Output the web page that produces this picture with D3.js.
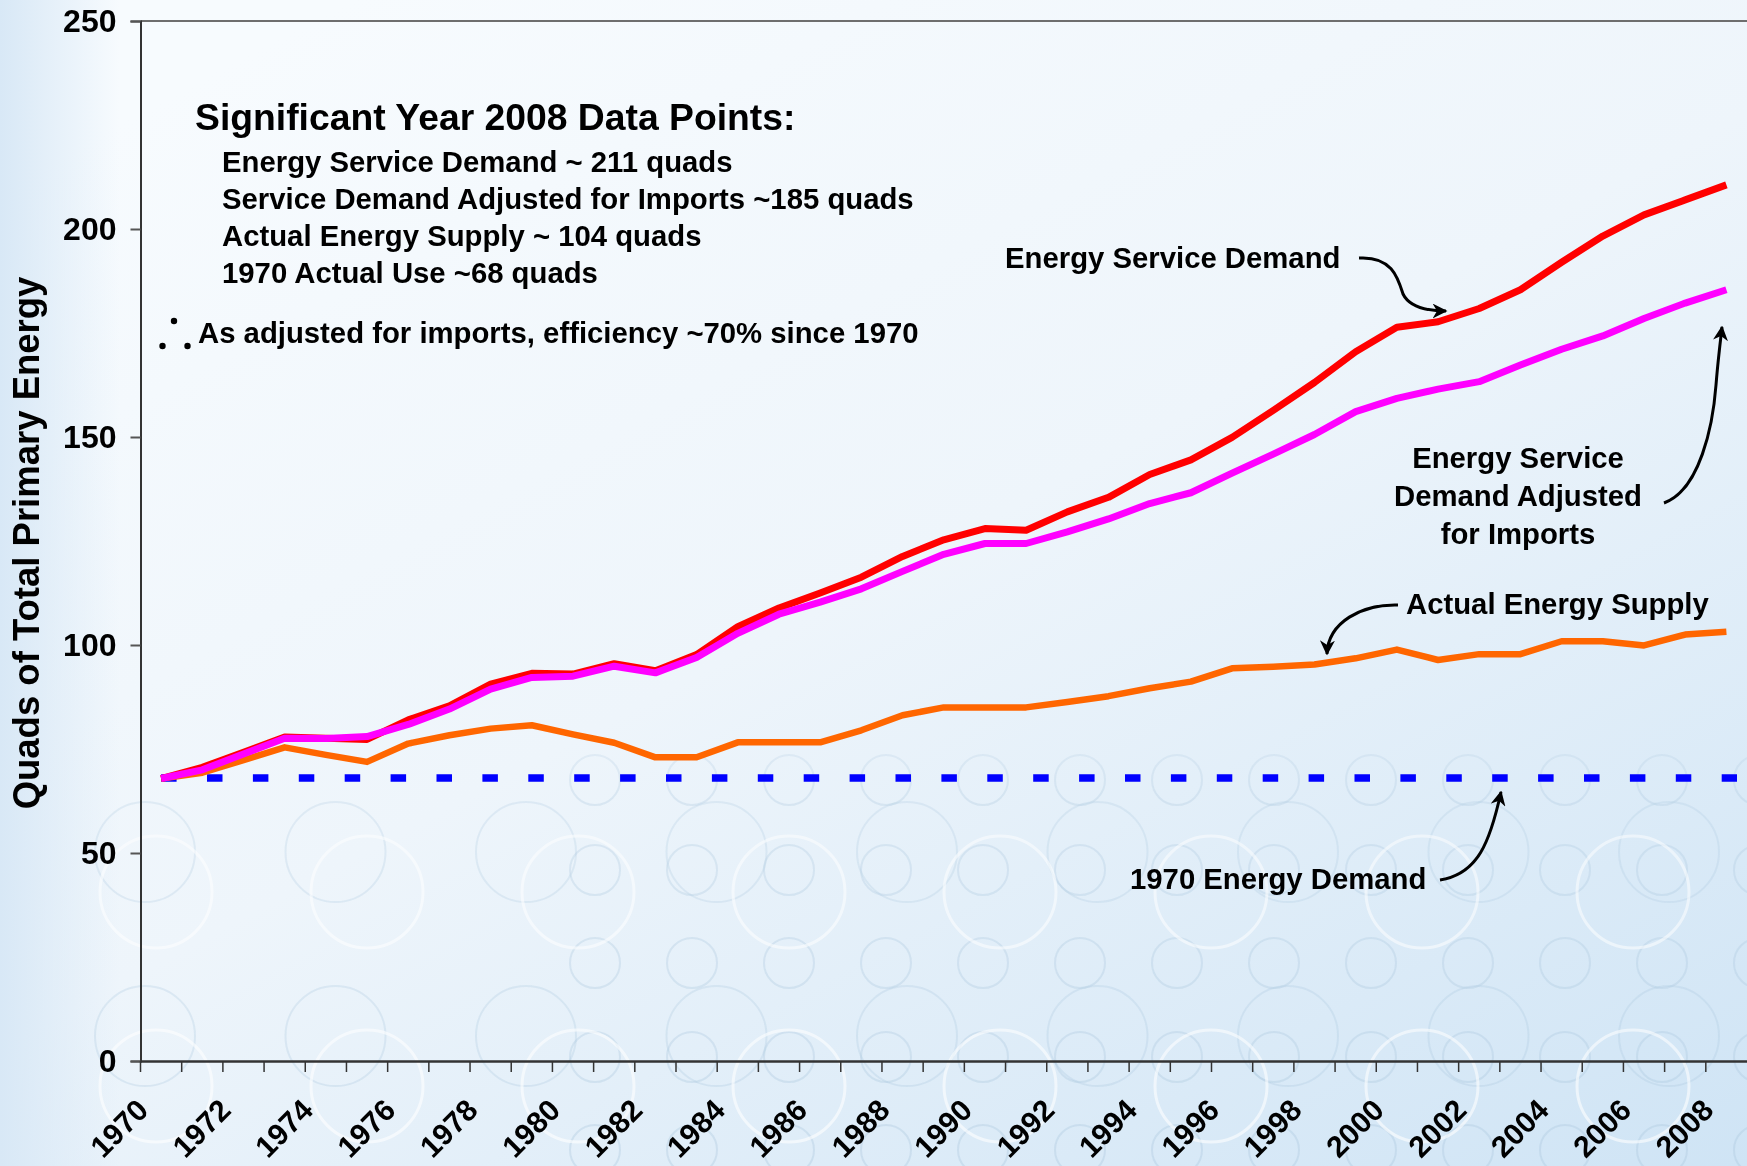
<!DOCTYPE html>
<html>
<head>
<meta charset="utf-8">
<script src="https://cdn.jsdelivr.net/npm/d3@7"></script>
<style>
  html, body { margin: 0; padding: 0; background: #f4f9fd; }
  svg text { font-family: "Liberation Sans", Arial, sans-serif; font-weight: bold; fill: #000; }
</style>
</head>
<body>
<svg id="chart" width="1747" height="1166"></svg>
<script>
// data (quads)
var years = [1970, 1971, 1972, 1973, 1974, 1975, 1976, 1977, 1978, 1979,
             1980, 1981, 1982, 1983, 1984, 1985, 1986, 1987, 1988, 1989,
             1990, 1991, 1992, 1993, 1994, 1995, 1996, 1997, 1998, 1999,
             2000, 2001, 2002, 2003, 2004, 2005, 2006, 2007, 2008];
var serviceDemand = [67.9, 70.6, 74.2, 77.9, 77.6, 77.3, 82.0, 85.4, 90.6, 93.2,
                     93.0, 95.5, 93.8, 97.7, 104.4, 108.9, 112.5, 116.3, 121.3, 125.3,
                     128.0, 127.6, 132.0, 135.5, 141.0, 144.5, 149.9, 156.4, 163.1, 170.5,
                     176.4, 177.7, 180.9, 185.4, 192.0, 198.3, 203.4, 207.0, 210.6];
var adjustedDemand = [67.9, 70.0, 73.8, 77.6, 77.5, 78.0, 80.9, 84.6, 89.4, 92.2,
                      92.5, 94.9, 93.3, 97.0, 102.8, 107.4, 110.3, 113.5, 117.7, 121.8,
                      124.4, 124.4, 127.2, 130.3, 134.0, 136.6, 141.3, 145.9, 150.6, 156.1,
                      159.3, 161.5, 163.3, 167.3, 171.1, 174.3, 178.5, 182.2, 185.4];
var actualSupply = [67.9, 69.3, 72.3, 75.4, 73.6, 71.9, 76.3, 78.3, 79.9, 80.7,
                    78.5, 76.5, 73.0, 73.0, 76.6, 76.6, 76.6, 79.5, 83.1, 85.0,
                    85.0, 85.0, 86.3, 87.7, 89.6, 91.2, 94.4, 94.8, 95.3, 96.8,
                    98.9, 96.4, 97.8, 97.8, 100.9, 100.9, 99.9, 102.5, 103.2];
var demand1970 = 68;
var yTicks = [0, 50, 100, 150, 200, 250];
var labelYears = [1970, 1972, 1974, 1976, 1978, 1980, 1982, 1984, 1986, 1988, 1990,
                  1992, 1994, 1996, 1998, 2000, 2002, 2004, 2006, 2008];

var summaryLines = [
    "Energy Service Demand ~ 211 quads",
    "Service Demand Adjusted for Imports ~185 quads",
    "Actual Energy Supply ~ 104 quads",
    "1970 Actual Use ~68 quads"
];

var W = 1747, H = 1166;
var plotLeft = 140.5, plotRight = 1747, plotTop = 21, plotBottom = 1061;

var svg = d3.select( "#chart" );
var defs = svg.append( "defs" );

// background
var bg = defs.append( "linearGradient" ).attr( "id", "bg" )
    .attr( "x1", "20%" ).attr( "y1", "0%" ).attr( "x2", "100%" ).attr( "y2", "100%" );
bg.append( "stop" ).attr( "offset", "0%" ).attr( "stop-color", "#f7fbfe" );
bg.append( "stop" ).attr( "offset", "45%" ).attr( "stop-color", "#eef5fb" );
bg.append( "stop" ).attr( "offset", "100%" ).attr( "stop-color", "#cfe4f5" );

var edge = defs.append( "linearGradient" ).attr( "id", "edge" )
    .attr( "x1", "0%" ).attr( "y1", "0%" ).attr( "x2", "100%" ).attr( "y2", "0%" );
edge.append( "stop" ).attr( "offset", "0%" ).attr( "stop-color", "#d8e8f6" ).attr( "stop-opacity", 1 );
edge.append( "stop" ).attr( "offset", "100%" ).attr( "stop-color", "#d8e8f6" ).attr( "stop-opacity", 0 );

var fade = defs.append( "linearGradient" ).attr( "id", "fade" )
    .attr( "x1", "0%" ).attr( "y1", "0%" ).attr( "x2", "0%" ).attr( "y2", "100%" );
fade.append( "stop" ).attr( "offset", "0%" ).attr( "stop-color", "#fff" ).attr( "stop-opacity", 0 );
fade.append( "stop" ).attr( "offset", "55%" ).attr( "stop-color", "#fff" ).attr( "stop-opacity", 0 );
fade.append( "stop" ).attr( "offset", "68%" ).attr( "stop-color", "#fff" ).attr( "stop-opacity", 0.8 );
fade.append( "stop" ).attr( "offset", "100%" ).attr( "stop-color", "#fff" ).attr( "stop-opacity", 1 );
defs.append( "mask" ).attr( "id", "circleMask" )
    .append( "rect" ).attr( "width", W ).attr( "height", H ).attr( "fill", "url(#fade)" );

svg.append( "rect" ).attr( "width", W ).attr( "height", H ).attr( "fill", "url(#bg)" );
svg.append( "rect" ).attr( "width", 120 ).attr( "height", H ).attr( "fill", "url(#edge)" );

// decorative circles
var deco = svg.append( "g" ).attr( "mask", "url(#circleMask)" ).attr( "fill", "none" );
[780, 870, 963, 1057, 1150].forEach( function( cy ) {
    for ( var cx = 595; cx < W + 30; cx += 97 ) {
        deco.append( "circle" ).attr( "cx", cx ).attr( "cy", cy ).attr( "r", 25 )
            .attr( "stroke", "#a9c6de" ).attr( "stroke-width", 2 ).attr( "opacity", 0.35 );
    }
} );
[852, 1036].forEach( function( cy ) {
    for ( var cx = 145; cx < W + 60; cx += 190.5 ) {
        deco.append( "circle" ).attr( "cx", cx ).attr( "cy", cy ).attr( "r", 50 )
            .attr( "stroke", "#a9c6de" ).attr( "stroke-width", 2 ).attr( "opacity", 0.3 );
    }
} );
[892, 1086].forEach( function( cy ) {
    for ( var cx = 156; cx < W + 60; cx += 211 ) {
        deco.append( "circle" ).attr( "cx", cx ).attr( "cy", cy ).attr( "r", 56 )
            .attr( "stroke", "#ffffff" ).attr( "stroke-width", 3 ).attr( "opacity", 0.6 );
    }
} );

// scales
var x = d3.scaleBand().domain( years ).range( [ plotLeft, plotRight ] ).padding( 0 );
var bw = x.bandwidth();
var cx = function( yr ) { return x( yr ) + bw / 2; };
var y = d3.scaleLinear().domain( [ 0, 250 ] ).range( [ plotBottom, plotTop ] );

// plot frame top
svg.append( "line" )
    .attr( "x1", plotLeft ).attr( "x2", plotRight ).attr( "y1", plotTop ).attr( "y2", plotTop )
    .attr( "stroke", "#6e6e6e" ).attr( "stroke-width", 2 );

// y axis
var yAxis = svg.append( "g" )
    .attr( "transform", "translate(" + plotLeft + ",0)" )
    .call( d3.axisLeft( y ).tickValues( yTicks ).tickSize( 10 ).tickPadding( 14 ) );
yAxis.select( ".domain" ).attr( "stroke", "#333" ).attr( "stroke-width", 2 );
yAxis.selectAll( ".tick line" ).attr( "stroke", "#555" ).attr( "stroke-width", 2 );
yAxis.selectAll( ".tick text" )
    .style( "font-size", "32px" ).style( "font-family", "'Liberation Sans', Arial, sans-serif" )
    .style( "font-weight", "bold" ).attr( "fill", "#000" );

// x axis, ticks between categories
var xAxis = svg.append( "g" )
    .attr( "transform", "translate(0," + plotBottom + ")" )
    .call( d3.axisBottom( x ).tickSize( 11 ).tickFormat( "" ).tickSizeOuter( 0 ) );
xAxis.select( ".domain" ).attr( "stroke", "#333" ).attr( "stroke-width", 2.5 );
xAxis.selectAll( ".tick" ).attr( "transform", function( d ) { return "translate(" + x( d ) + ",0)"; } );
xAxis.selectAll( ".tick line" ).attr( "stroke", "#333" ).attr( "stroke-width", 1.5 );

svg.append( "g" ).selectAll( "text" )
    .data( labelYears )
    .join( "text" )
    .attr( "text-anchor", "end" )
    .attr( "transform", function( d ) {
        return "translate(" + ( cx( d ) - 11 ) + "," + ( plotBottom + 51 ) + ") rotate(-45)";
    } )
    .style( "font-size", "30px" )
    .text( function( d ) { return d; } );

// y title
svg.append( "text" )
    .attr( "transform", "translate(39,543) rotate(-90)" )
    .attr( "text-anchor", "middle" )
    .style( "font-size", "36.5px" )
    .text( "Quads of Total Primary Energy" );

// lines
var line = d3.line()
    .x( function( d, i ) { return cx( years[i] ); } )
    .y( function( d ) { return y( d ); } );

svg.append( "line" )
    .attr( "x1", cx( years[0] ) ).attr( "x2", 1737 )
    .attr( "y1", y( demand1970 ) ).attr( "y2", y( demand1970 ) )
    .attr( "stroke", "#0000ff" ).attr( "stroke-width", 7.5 )
    .attr( "stroke-dasharray", "15.5 30.4" );

svg.append( "path" ).datum( actualSupply ).attr( "d", line )
    .attr( "fill", "none" ).attr( "stroke", "#ff6600" ).attr( "stroke-width", 6.5 )
    .attr( "stroke-linejoin", "round" );
svg.append( "path" ).datum( serviceDemand ).attr( "d", line )
    .attr( "fill", "none" ).attr( "stroke", "#ff0000" ).attr( "stroke-width", 7 )
    .attr( "stroke-linejoin", "round" );
svg.append( "path" ).datum( adjustedDemand ).attr( "d", line )
    .attr( "fill", "none" ).attr( "stroke", "#ff00ff" ).attr( "stroke-width", 7 )
    .attr( "stroke-linejoin", "round" );

// summary block
svg.append( "text" ).attr( "x", 195 ).attr( "y", 130 ).style( "font-size", "37.3px" )
    .text( "Significant Year 2008 Data Points:" );
svg.append( "g" ).selectAll( "text" )
    .data( summaryLines )
    .join( "text" )
    .attr( "x", 222 )
    .attr( "y", function( d, i ) { return 171.5 + i * 37.3; } )
    .style( "font-size", "29.3px" )
    .text( function( d ) { return d; } );

// "therefore" dots
svg.append( "g" ).selectAll( "circle" )
    .data( [ [162.5, 346], [174, 321], [187.5, 346] ] )
    .join( "circle" )
    .attr( "cx", function( d ) { return d[0]; } ).attr( "cy", function( d ) { return d[1]; } )
    .attr( "r", 3.2 ).attr( "fill", "#000" );
svg.append( "text" ).attr( "x", 198 ).attr( "y", 343 ).style( "font-size", "29.3px" )
    .text( "As adjusted for imports, efficiency ~70% since 1970" );

// annotations
svg.append( "text" ).attr( "x", 1005 ).attr( "y", 267.5 ).style( "font-size", "29.3px" )
    .text( "Energy Service Demand" );
svg.append( "g" ).selectAll( "text" )
    .data( [ "Energy Service", "Demand Adjusted", "for Imports" ] )
    .join( "text" )
    .attr( "x", 1518 ).attr( "y", function( d, i ) { return 468 + i * 38; } )
    .attr( "text-anchor", "middle" )
    .style( "font-size", "29.3px" )
    .text( function( d ) { return d; } );
svg.append( "text" ).attr( "x", 1406 ).attr( "y", 614 ).style( "font-size", "29.3px" )
    .text( "Actual Energy Supply" );
svg.append( "text" ).attr( "x", 1130 ).attr( "y", 889 ).style( "font-size", "29.3px" )
    .text( "1970 Energy Demand" );

// arrows
defs.append( "marker" ).attr( "id", "head" )
    .attr( "viewBox", "0 0 10 10" ).attr( "refX", 9 ).attr( "refY", 5 )
    .attr( "markerWidth", 5 ).attr( "markerHeight", 5 ).attr( "orient", "auto" )
    .attr( "markerUnits", "strokeWidth" )
    .append( "path" ).attr( "d", "M0,0 L10,5 L0,10 L3,5 Z" ).attr( "fill", "#000" );

var arrows = [
    "M1359,258 C1392,256 1398,278 1403,294 C1410,308 1428,311 1446,311",
    "M1664,503 C1700,490 1713,425 1716,385 C1718,360 1720,345 1722,327",
    "M1398,605 C1362,604 1328,622 1327,654",
    "M1440,880 C1478,874 1490,842 1501,792"
];
svg.append( "g" ).selectAll( "path" )
    .data( arrows )
    .join( "path" )
    .attr( "d", function( d ) { return d; } )
    .attr( "fill", "none" ).attr( "stroke", "#000" ).attr( "stroke-width", 3 )
    .attr( "marker-end", "url(#head)" );
</script>
</body>
</html>
